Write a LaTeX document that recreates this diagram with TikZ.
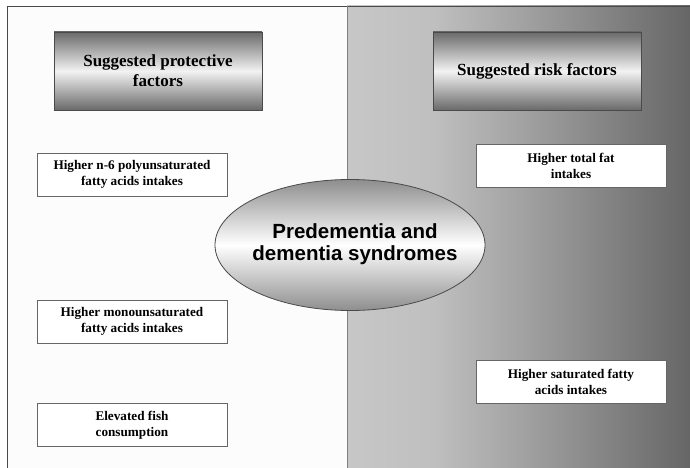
\documentclass[tikz,border=0pt]{standalone}
\usepackage{fontspec}
\setmainfont{Liberation Serif}
\newfontfamily\ellfont{Liberation Sans}
\usetikzlibrary{shapes.geometric}
\definecolor{hdark}{HTML}{6A6A6A}
\definecolor{hlight}{HTML}{F2F2F2}
\definecolor{edark}{HTML}{8E8E8E}
\definecolor{framegray}{HTML}{4A4A4A}
\pgfdeclarehorizontalshading{rpanelshade}{100bp}{%
  color(0bp)=(black!22);
  color(25bp)=(black!22);
  color(37.5bp)=(black!25);
  color(50bp)=(black!36);
  color(62.5bp)=(black!48);
  color(75bp)=(black!60);
  color(100bp)=(black!60)}
\tikzset{
  header/.style={draw=framegray, line width=0.8pt, top color=hdark, bottom color=hdark, middle color=hlight,
    minimum width=208pt, minimum height=78pt, align=center, font=\fontsize{17}{20}\selectfont\bfseries, inner sep=0pt},
  factor/.style={draw=gray!80!black, line width=0.6pt, fill=white,
    minimum width=190pt, minimum height=43pt, align=center, font=\fontsize{13.2}{16}\selectfont\bfseries, inner sep=0pt},
  centershape/.style={ellipse, draw=framegray, line width=0.8pt, top color=edark, bottom color=edark, middle color=white,
    minimum width=270pt, minimum height=131pt, inner sep=0pt},
  centertext/.style={align=center, inner sep=0pt, font=\ellfont\fontsize{20.5}{22.5}\selectfont\bfseries}
}
\begin{document}
\begin{tikzpicture}[x=1pt,y=-1pt]
\useasboundingbox (0,0) rectangle (690,468);
\fill[white] (0,0) rectangle (690,468);
\fill[shading=rpanelshade] (347,6) rectangle (690,468);
\fill[white!98!gray] (7,6) rectangle (347,468);
\draw[framegray, line width=0.8pt] (7,468) -- (7,6) -- (690,6);
\draw[gray, line width=0.6pt] (347,6) -- (347,468);

\node[header] (hprot) at (158,71) {Suggested protective\\factors};
\node[header] (hrisk) at (537,71) {Suggested risk factors};

\node[factor] (pufa) at (132,174.5) {Higher n-6 polyunsaturated\\fatty acids intakes};
\node[factor] (mufa) at (132,321.5) {Higher monounsaturated\\fatty acids intakes};
\node[factor] (fish) at (132,425) {Elevated fish\\consumption};

\node[factor] (tfat) at (571,166) {Higher total fat\\intakes};
\node[factor] (sfa) at (571,382) {Higher saturated fatty\\acids intakes};

\node[centershape] (dem) at (350,245) {};
\node[centertext] (demtext) at ([xshift=5pt,yshift=1pt]dem.center) {Predementia and\\dementia syndromes};
\end{tikzpicture}
\end{document}
